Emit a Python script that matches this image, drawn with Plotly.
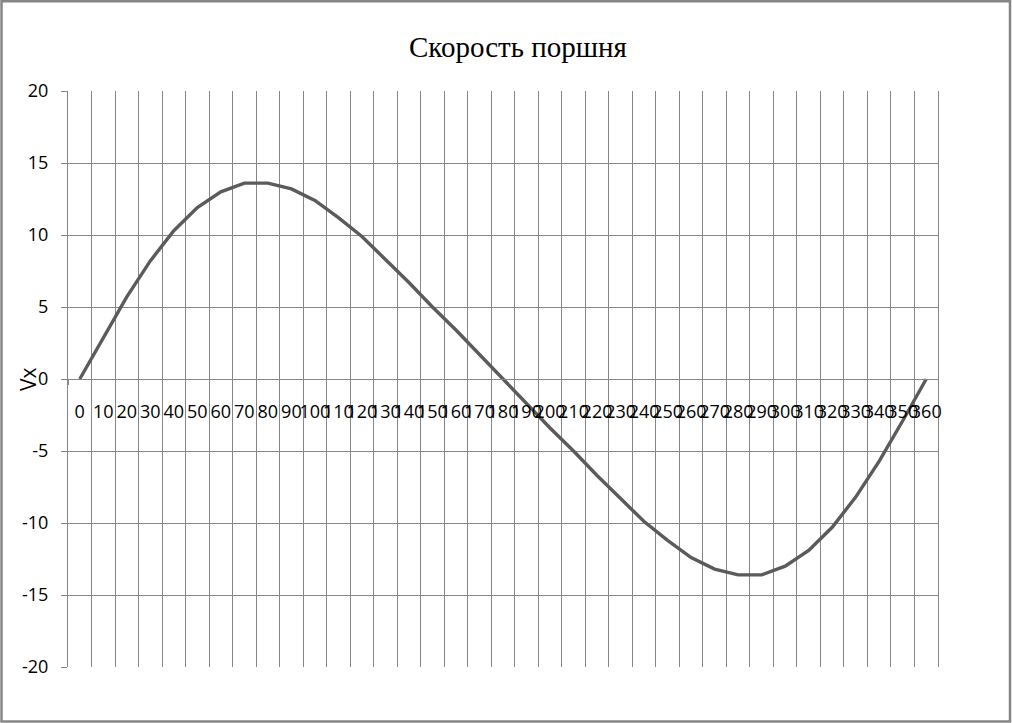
import plotly.graph_objects as go

angles = [str(a) for a in range(0, 361, 10)]
vx = [0, 2.9, 5.7, 8.2, 10.3, 11.9, 13.0, 13.6, 13.6, 13.2, 12.4, 11.2, 9.9, 8.3, 6.7, 5.0, 3.4, 1.7,
      0, -1.7, -3.4, -5.0, -6.7, -8.3, -9.9, -11.2, -12.4, -13.2, -13.6, -13.6, -13.0, -11.9, -10.3,
      -8.2, -5.7, -2.9, 0]
y_ticks = [-20, -15, -10, -5, 0, 5, 10, 15, 20]
y_tick_labels = ["-20", "-15", "-10", "-5", "0", "5", "10", "15", "20"]
title_text = "Скорость поршня"
y_title = "Vx"

GRID = "#868686"
TICKFONT = dict(family="Open Sans", size=18, color="#000000")

fig = go.Figure()
fig.add_trace(go.Scatter(x=angles, y=vx, mode="lines",
                         line=dict(color="#5b5b5b", width=3.4), showlegend=False,
                         hoverinfo="skip"))

fig.update_layout(
    width=1012, height=723,
    margin=dict(l=68, r=74, t=91, b=56, autoexpand=False),
    paper_bgcolor="white", plot_bgcolor="white",
    title=dict(text=title_text, x=518 / 1012, xanchor="center", xref="container",
               y=1 - 47 / 723, yanchor="middle", yref="container",
               font=dict(family="Liberation Serif", size=29, color="#000000")),
    xaxis=dict(type="category", categoryorder="array", categoryarray=angles,
               range=[-0.5, len(angles) - 0.5], tickmode="array", tickvals=angles, ticktext=angles,
               tickson="boundaries", showgrid=True, gridcolor=GRID, gridwidth=1,
               ticks="outside", ticklen=5, tickcolor=GRID, tickwidth=1,
               showline=True, linecolor=GRID, linewidth=1,
               anchor="free", position=0.5, tickangle=0, ticklabelstandoff=16,
               tickfont=TICKFONT, zeroline=False, fixedrange=True, automargin=False),
    yaxis=dict(range=[-20, 20], tickmode="array", tickvals=y_ticks, ticktext=y_tick_labels,
               showgrid=True, gridcolor=GRID, gridwidth=1, zeroline=False,
               ticks="outside", ticklen=6, tickcolor=GRID, tickwidth=1,
               showline=True, linecolor=GRID, linewidth=1, mirror=True,
               ticklabelstandoff=9, tickfont=TICKFONT, fixedrange=True, automargin=False),
    annotations=[dict(text=y_title, xref="paper", yref="paper", x=(28 - 68) / 870, y=0.5,
                      xanchor="center", yanchor="middle", textangle=-90, showarrow=False,
                      font=dict(family="Open Sans", size=21, color="#000000"))],
    shapes=[dict(type="rect", xref="paper", yref="paper",
                 x0=(1.5 - 68) / 870, x1=(1010 - 68) / 870,
                 y0=(667 - 721.5) / 576, y1=(667 - 1.2) / 576,
                 line=dict(color="#868686", width=2.5), fillcolor="rgba(0,0,0,0)", layer="below")],
)

fig.write_html("out.html", config={"displayModeBar": False},
               post_script="document.body.style.margin='0px';")
